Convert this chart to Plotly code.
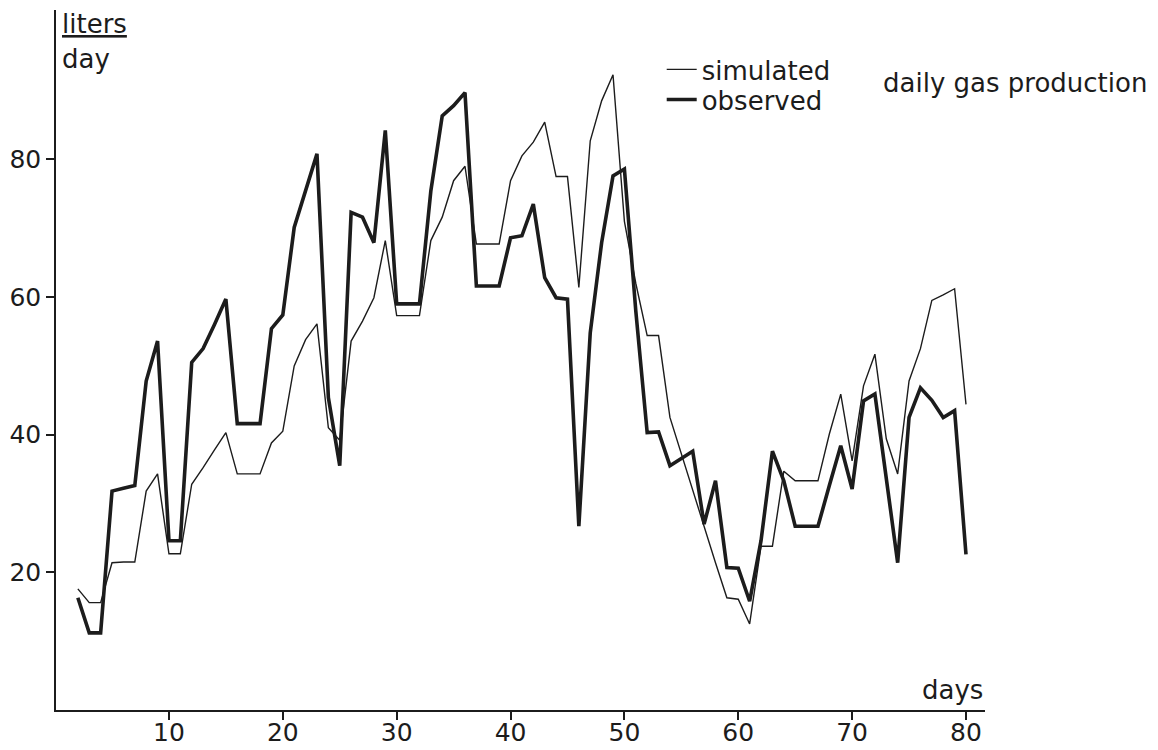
import plotly.graph_objects as go

days = list(range(2, 81))

simulated = [17.6, 15.6, 15.6, 21.4, 21.5, 21.5, 31.8, 34.3, 22.7, 22.7,
             32.8, 35.2, 37.8, 40.3, 34.3, 34.3, 34.3, 38.8, 40.5, 50.0,
             53.8, 56.1, 41.0, 39.2, 53.6, 56.5, 59.9, 68.2, 57.3, 57.3,
             57.3, 68.2, 71.6, 76.9, 79.0, 67.7, 67.7, 67.7, 76.9, 80.5,
             82.5, 85.4, 77.5, 77.5, 61.4, 82.7, 88.5, 92.3, 71.0, 62.0,
             54.4, 54.4, 42.5, 37.2, 31.8, 26.5, 21.4, 16.3, 16.1, 12.5,
             23.8, 23.8, 34.7, 33.3, 33.3, 33.3, 40.1, 45.9, 36.2, 47.1,
             51.7, 39.4, 34.3, 47.8, 52.5, 59.5, 60.3, 61.2, 44.4]

observed = [16.3, 11.2, 11.2, 31.8, 32.2, 32.6, 47.8, 53.6, 24.6, 24.6,
            50.5, 52.5, 56.0, 59.7, 41.6, 41.6, 41.6, 55.4, 57.4, 70.1,
            75.5, 80.8, 45.4, 35.5, 72.3, 71.6, 67.9, 84.2, 59.0, 59.0,
            59.0, 75.4, 86.3, 87.8, 89.7, 61.6, 61.6, 61.6, 68.6, 68.9,
            73.5, 62.8, 59.9, 59.7, 26.7, 54.8, 67.9, 77.6, 78.6, 58.0,
            40.3, 40.4, 35.5, 36.5, 37.6, 27.0, 33.3, 20.7, 20.6, 15.8,
            24.6, 37.6, 33.3, 26.7, 26.7, 26.7, 32.6, 38.4, 32.1, 44.9,
            45.9, 34.0, 21.4, 42.5, 46.8, 45.0, 42.5, 43.5, 22.6]

x_ticks = [10, 20, 30, 40, 50, 60, 70, 80]
y_ticks = [20, 40, 60, 80]

ink = "#1c1c1c"
font_family = "DejaVu Sans"
txt = 26
tick_txt = 25

fig = go.Figure()
fig.add_trace(go.Scatter(x=days, y=simulated, mode="lines", name="simulated",
                         legend="legend",
                         line=dict(color=ink, width=1.4)))
fig.add_trace(go.Scatter(x=days, y=observed, mode="lines", name="observed",
                         legend="legend2",
                         line=dict(color=ink, width=3.6)))

legend_common = dict(xanchor="left", yanchor="middle",
                     bgcolor="rgba(0,0,0,0)", font=dict(size=txt, color=ink),
                     itemwidth=30, tracegroupgap=0)

# page body has an 8px margin: figure is sized/margined to compensate
fig.update_layout(
    width=1150, height=742,
    margin=dict(l=48, r=173, t=2, b=40, autoexpand=False),
    paper_bgcolor="white", plot_bgcolor="white",
    font=dict(family=font_family, size=txt, color=ink),
    showlegend=True,
    legend=dict(x=0.652, y=0.915, **legend_common),
    legend2=dict(x=0.652, y=0.872, **legend_common),
    xaxis=dict(range=[0.08, 81.67], tickvals=x_ticks, ticks="outside",
               ticklen=8, tickwidth=1.5, tickcolor=ink, showline=True,
               linecolor=ink, linewidth=2, showgrid=False, zeroline=False,
               automargin=False, ticklabelstandoff=-9,
               tickfont=dict(size=tick_txt, color=ink)),
    yaxis=dict(range=[0, 101.7], tickvals=y_ticks, ticks="outside",
               ticklen=8, tickwidth=1.5, tickcolor=ink, showline=True,
               linecolor=ink, linewidth=1.5, showgrid=False, zeroline=False,
               automargin=False, tickfont=dict(size=tick_txt, color=ink)),
    annotations=[
        dict(text="daily gas production", xref="paper", yref="paper",
             x=1.176, y=0.895, xanchor="right", yanchor="middle",
             showarrow=False, font=dict(size=txt, color=ink)),
        dict(text="<u>liters</u>", xref="paper", yref="paper",
             x=0.004, y=0.98, xanchor="left", yanchor="middle",
             showarrow=False, font=dict(size=txt, color=ink)),
        dict(text="day", xref="paper", yref="paper",
             x=0.004, y=0.93, xanchor="left", yanchor="middle",
             showarrow=False, font=dict(size=txt, color=ink)),
        dict(text="days", xref="paper", yref="paper",
             x=1.0, y=0.029, xanchor="right", yanchor="middle",
             showarrow=False, font=dict(size=txt, color=ink)),
    ],
)

fig.write_html("out.html")
